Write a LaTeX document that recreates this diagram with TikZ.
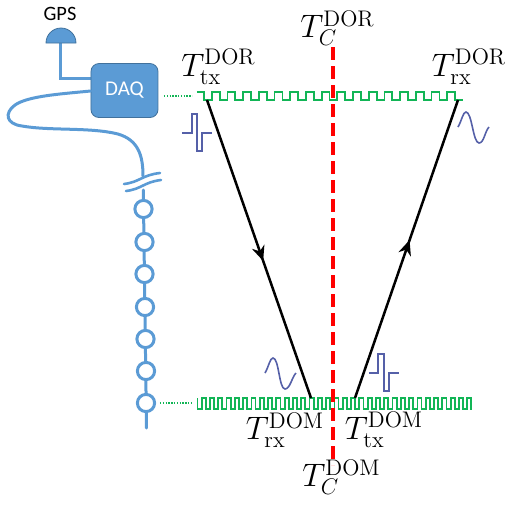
\documentclass[tikz,border=0pt]{standalone}
\usepackage{fontspec}
\setsansfont{Carlito}
\usetikzlibrary{arrows.meta,decorations.markings}
\definecolor{daqblue}{HTML}{5B9BD5}
\definecolor{daqedge}{HTML}{41719C}
\definecolor{clockgreen}{HTML}{12B556}
\definecolor{pulseblue}{HTML}{5560A8}
\tikzset{
  cable/.style={draw=daqblue,line width=1.5pt,line cap=round},
  dom/.style={circle,draw=daqblue,line width=1.5pt,fill=white,minimum size=8.6pt,inner sep=0pt},
  clock/.style={draw=clockgreen,line width=0.9pt},
  sync/.style={draw=clockgreen,line width=0.8pt,dash pattern=on 0.7pt off 0.7pt},
  pulse/.style={draw=pulseblue,line width=0.8pt},
  ray/.style={draw=black,line width=1.25pt,postaction={decorate}},
  rayl/.style={ray,decoration={markings,mark=at position 0.54 with {\arrow{Stealth[length=7.5pt,width=6.5pt]}}}},
  rayr/.style={ray,decoration={markings,mark=at position 0.53 with {\arrow{Stealth[length=7.5pt,width=6.5pt]}}}},
  tlabel/.style={inner sep=0pt,scale=0.94,font=\LARGE},
}
\begin{document}
\begin{tikzpicture}[x=0.5pt,y=-0.5pt]
\useasboundingbox (0,0) rectangle (509,516);
% GPS and DAQ
\node[inner sep=0pt,font=\sffamily\fontsize{10.2}{12}\selectfont] (gpslabel) at (60,14) {GPS};
\coordinate (gpsfoot) at (61,43);
\coordinate (daqtop) at (91,78);
\draw[cable] (gpsfoot) |- (daqtop);
\fill[daqblue,draw=daqedge,line width=0.4pt] (46,43) arc[start angle=180,end angle=0,radius=7.5pt] -- cycle;
\node[draw=daqedge,fill=daqblue,line width=0.4pt,rounded corners=4pt,minimum width=33.5pt,minimum height=27pt,inner sep=0pt,text=white,font=\sffamily\fontsize{10.5}{12}\selectfont] (daq) at (124.5,90.5) {DAQ};
% cable
\coordinate (breaktop) at (143,176);
\draw[cable] (daq.west |- 0,91) .. controls (60,94) and (28,96) .. (15,105)
  .. controls (4,113) and (6,124) .. (22,126)
  .. controls (50,131) and (90,127) .. (118,134)
  .. controls (138,140) and (143,155) .. (breaktop);
\draw[cable,line width=1.3pt] (124,184) .. controls (140,182) and (142,175) .. (160,173);
\draw[cable,line width=1.3pt] (126,191) .. controls (142,189) and (144,182) .. (161,180);
\coordinate (breakbot) at (143.3,190);
\coordinate (stringend) at (146.5,428);
\draw[cable] (breakbot) -- (stringend);
\node[dom] (d1) at (143.5,209) {};
\node[dom] (d2) at (144.5,242) {};
\node[dom] (d3) at (144.5,274) {};
\node[dom] (d4) at (145,307) {};
\node[dom] (d5) at (145.5,339) {};
\node[dom] (d6) at (146,371) {};
\node[dom] (d7) at (146,403) {};
% sync
\coordinate (s1) at (164,96); \coordinate (s2) at (192,96);
\coordinate (s3) at (160,403); \coordinate (s4) at (192,403);
\draw[sync] (s1) -- (s2);
\draw[sync] (s3) -- (s4);
% top clock
\draw[clock] (197,92) -- (204,92) -- (204,100)
  \foreach \i in {0,...,15} { -- ++(7.8,0) -- ++(0,-8) -- ++(7.9,0) -- ++(0,8) } -- ++(8,0);
% bottom clock
\draw[clock] (197.5,398) -- (197.5,409)
  \foreach \i in {0,...,32} { -- ++(4.15,0) -- ++(0,-11) -- ++(4.15,0) -- ++(0,11) } -- ++(1,0) coordinate (bottomend);
% centre line
\coordinate (ctop) at (333,47); \coordinate (cbot) at (333,465);
\draw[red,line width=1.9pt,dash pattern=on 6.5pt off 3pt] (ctop) -- (cbot);
% rays
\coordinate (a1) at (207,100); \coordinate (a2) at (311,398);
\coordinate (b1) at (355,398); \coordinate (b2) at (458,100);
\draw[rayl] (a1) -- (a2);
\draw[rayr] (b1) -- (b2);
% pulses
\draw[pulse] (182,133) -- (192,133) -- (192,114) -- (197,114) -- (197,151) -- (202,151) -- (202,133) -- (212,133);
\draw[pulse] (369,373) -- (378,373) -- (378,354) -- (384,354) -- (384,391) -- (389,391) -- (389,373) -- (399,373);
\draw[pulse] (265,373) .. controls (269,366) and (270,358) .. (273,358) .. controls (279,358) and (279,389) .. (285,389) .. controls (290,389) and (292,377) .. (296,373);
\draw[pulse] (458,127) .. controls (462,120) and (463,112) .. (466,112) .. controls (472,112) and (473,143) .. (479,143) .. controls (484,143) and (485,131) .. (489,127);
% labels
\node[tlabel] (ttxdor) at (218.5,66.5) {$T_{\mathrm{tx}}^{\mathrm{DOR}}$};
\node[tlabel] (tcdor) at (337.5,28) {$T_{C}^{\mathrm{DOR}}$};
\node[tlabel] (trxdor) at (469,66.5) {$T_{\mathrm{rx}}^{\mathrm{DOR}}$};
\node[tlabel] (trxdom) at (285,430) {$T_{\mathrm{rx}}^{\mathrm{DOM}}$};
\node[tlabel] (ttxdom) at (384,430) {$T_{\mathrm{tx}}^{\mathrm{DOM}}$};
\node[tlabel] (tcdom) at (341.5,477) {$T_{C}^{\mathrm{DOM}}$};
\end{tikzpicture}
\end{document}
